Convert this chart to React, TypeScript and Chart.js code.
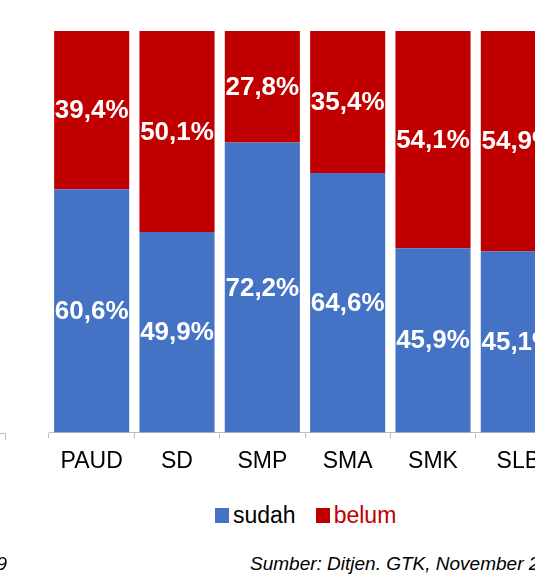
import React, { useEffect, useRef } from "react";
import { Chart, registerables } from "chart.js";

Chart.register(...registerables);

const categories = ["PAUD", "SD", "SMP", "SMA", "SMK", "SLB"];
const sudahValues = [60.6, 49.9, 72.2, 64.6, 45.9, 45.1];
const belumValues = [39.4, 50.1, 27.8, 35.4, 54.1, 54.9];
const seriesNames = ["sudah", "belum"];
const seriesColors = ["#4472c4", "#c00000"];
const legendTextColors = ["#000000", "#c00000"];
const sourceNote = "Sumber: Ditjen. GTK, November 2019";
const leftNote = "2019";

const FONT = "'Liberation Sans', Arial, sans-serif";

const dataLabelPlugin = {
  id: "dataLabels",
  afterDatasetsDraw(chart: any) {
    const ctx = chart.ctx;
    ctx.save();
    ctx.fillStyle = "#ffffff";
    ctx.font = `bold 26px ${FONT}`;
    ctx.textAlign = "center";
    ctx.textBaseline = "middle";
    chart.data.datasets.forEach((ds: any, i: number) => {
      const meta = chart.getDatasetMeta(i);
      meta.data.forEach((el: any, j: number) => {
        const { x, y, base } = el.getProps(["x", "y", "base"], true);
        const v = ds.data[j] as number;
        const txt = v.toFixed(1).replace(".", ",") + "%";
        ctx.fillText(txt, x, (y + base) / 2 + 1);
      });
    });
    ctx.restore();
  },
};

function App() {
  const ref = useRef<HTMLCanvasElement | null>(null);
  useEffect(() => {
    if (!ref.current) return;
    const chart = new Chart(ref.current, {
      type: "bar",
      data: {
        labels: categories,
        datasets: [
          {
            label: seriesNames[0],
            data: sudahValues,
            backgroundColor: seriesColors[0],
            barPercentage: 0.88,
            categoryPercentage: 1,
          },
          {
            label: seriesNames[1],
            data: belumValues,
            backgroundColor: seriesColors[1],
            barPercentage: 0.88,
            categoryPercentage: 1,
          },
        ],
      },
      options: {
        responsive: false,
        animation: false,
        devicePixelRatio: 1,
        layout: { padding: { left: 49, right: 53, top: 31, bottom: 0 } },
        plugins: {
          legend: { display: false },
          tooltip: { enabled: false },
        },
        scales: {
          x: {
            stacked: true,
            grid: {
              display: true,
              drawOnChartArea: false,
              drawTicks: true,
              tickLength: 6,
              color: "#bfbfbf",
            },
            border: { display: true, color: "#bfbfbf" },
            ticks: {
              color: "#000000",
              font: { family: FONT, size: 23 },
              padding: 9,
              maxRotation: 0,
              autoSkip: false,
            },
          },
          y: {
            stacked: true,
            min: 0,
            max: 100,
            display: false,
          },
        },
      },
      plugins: [dataLabelPlugin],
    });
    return () => chart.destroy();
  }, []);

  return (
    <div
      style={{
        position: "fixed",
        left: 0,
        top: 0,
        width: 535,
        height: 579,
        overflow: "hidden",
        background: "#ffffff",
        fontFamily: FONT,
      }}
    >
      <canvas
        ref={ref}
        width={614}
        height={484}
        style={{ position: "absolute", left: 0, top: 0, width: 614, height: 484 }}
      />
      <div
        style={{
          position: "absolute",
          left: 0,
          top: 433,
          width: 5,
          height: 6,
          borderTop: "1px solid #bfbfbf",
          borderRight: "1px solid #bfbfbf",
        }}
      />
      <div
        style={{
          position: "absolute",
          left: 215,
          top: 501,
          display: "flex",
          alignItems: "center",
          fontSize: 23,
          lineHeight: "28px",
          whiteSpace: "nowrap",
        }}
      >
        {seriesNames.map((n, i) => (
          <div key={n} style={{ display: "flex", alignItems: "center", marginRight: i === 0 ? 20 : 0 }}>
            <span
              style={{
                display: "inline-block",
                width: 14,
                height: 15,
                background: seriesColors[i],
                marginRight: 4,
              }}
            />
            <span style={{ color: legendTextColors[i] }}>{n}</span>
          </div>
        ))}
      </div>
      <div
        style={{
          position: "absolute",
          right: 535 - 7,
          top: 552,
          fontSize: 19,
          fontStyle: "italic",
          lineHeight: "23px",
          whiteSpace: "nowrap",
          color: "#000",
        }}
      >
        {leftNote}
      </div>
      <div
        style={{
          position: "absolute",
          left: 250,
          top: 552,
          fontSize: 19,
          fontStyle: "italic",
          lineHeight: "23px",
          whiteSpace: "nowrap",
          color: "#000",
        }}
      >
        {sourceNote}
      </div>
    </div>
  );
}

export default App;
